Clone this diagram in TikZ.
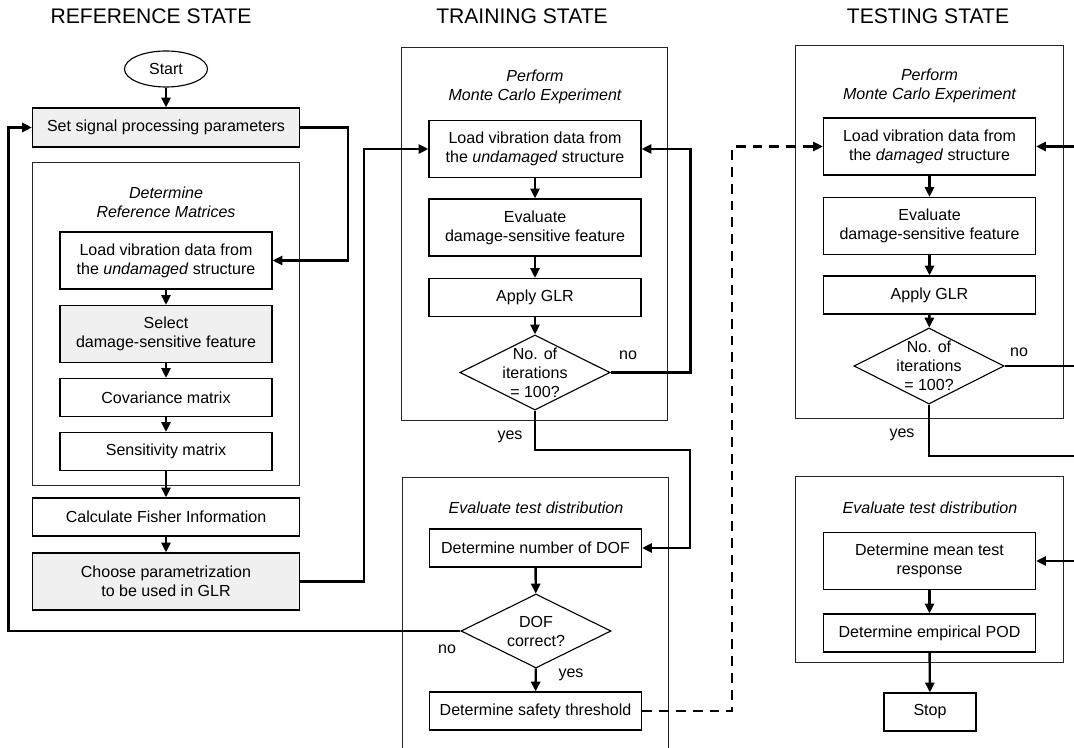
\documentclass[tikz,border=0pt]{standalone}
\usepackage{fontspec}
\setmainfont{Liberation Sans}
\usepackage{tikz}
\usetikzlibrary{arrows.meta,positioning,shapes.geometric,calc}

\begin{document}
\begin{tikzpicture}[
	x=0.025cm, y=-0.025cm,
	font=\fontsize{11.4}{13.5}\selectfont,
	stepbox/.style={
		draw,
		line width=0.8pt,
		fill=white,
		align=center,
		inner sep=0pt,
		minimum width=5.3cm,
		minimum height=0.95cm
	},
	tall/.style={minimum height=1.425cm},
	wide/.style={minimum width=6.675cm},
	greybox/.style={fill=black!6},
	group/.style={
		draw=black!85,
		line width=0.7pt,
		inner sep=0pt,
		minimum width=6.675cm
	},
	heading/.style={align=center, font=\fontsize{11.4}{13.5}\selectfont\itshape},
	decision/.style={
		diamond,
		draw,
		line width=0.8pt,
		inner sep=0pt,
		minimum width=3.75cm,
		minimum height=1.875cm
	},
	title/.style={font=\fontsize{15}{18}\selectfont},
	flow/.style={line width=1.7pt, -{Triangle[length=7pt,width=6.5pt]}},
	link/.style={line width=1.7pt},
	]
	\useasboundingbox (0,0) rectangle (1074,748);
	
	% column titles
	\node[title] (tref) at (151,16) {REFERENCE STATE};
	\node[title] (ttrain) at (522,16) {TRAINING STATE};
	\node[title] (ttest) at (928,16) {TESTING STATE};
	
	% group frames
	\node[group, minimum height=8.05cm] (refgrp) at (166,324) {};
	\node[group, minimum width=6.625cm, minimum height=9.3cm] (trmc) at (534.5,234) {};
	\node[group, minimum height=9.3cm] (temc) at (929.5,232) {};
	\node[group, minimum height=4.625cm] (teeval) at (929.5,569.5) {};
	\draw[draw=black!85, line width=0.7pt] (402,748) |- (668,477) -- (668,748);
	
	\node[heading] (hrefgrp) at (166,202.5) {Determine\\Reference Matrices};
	\node[heading] (htrmc) at (535,87) {Perform\\Monte Carlo Experiment};
	\node[heading] (htreval) at (536,508) {Evaluate test distribution};
	\node[heading] (htemc) at (929.5,86) {Perform\\Monte Carlo Experiment};
	\node[heading] (hteeval) at (930,508) {Evaluate test distribution};
	
	% reference state
	\node[ellipse, draw, line width=0.8pt, minimum width=2.075cm, minimum height=0.9cm, inner sep=0pt] (start) at (166,69) {Start};
	\node[stepbox, wide, greybox, minimum height=0.975cm] (setpar) at (166,127.5) {Set signal processing parameters};
	\node[stepbox, tall] (load1) at (166,260.5) {Load vibration data from\\the \textit{undamaged} structure};
	\node[stepbox, tall, greybox] (select1) at (166,334) {Select\\damage-sensitive feature};
	\node[stepbox] (cov1) at (166,397.5) {Covariance matrix};
	\node[stepbox] (sens1) at (166,451.5) {Sensitivity matrix};
	\node[stepbox, wide] (fisher) at (166,517) {Calculate Fisher Information};
	\node[stepbox, wide, tall, greybox] (choose) at (166,581.5) {Choose parametrization\\to be used in GLR};
	
	% training state
	\node[stepbox, tall] (load2) at (535,149) {Load vibration data from\\the \textit{undamaged} structure};
	\node[stepbox, tall] (eval2) at (535,227.5) {Evaluate\\damage-sensitive feature};
	\node[stepbox] (glr2) at (535,297.5) {Apply GLR};
	\node[decision, label={[align=center]center:{No. of\\iterations\\= 100?}}] (iter2) at (535,372.5) {};
	\node (no2) at (628,355) {no};
	\node (yes2) at (510,437) {yes};
	\node[stepbox] (dof2) at (535.5,548) {Determine number of DOF};
	\node[decision, minimum height=1.85cm, label={[align=center]center:{DOF\\correct?}}] (dofok) at (536,631) {};
	\node (no3) at (447,649) {no};
	\node (yes3) at (571,675) {yes};
	\node[stepbox] (safety) at (535.5,711) {Determine safety threshold};
	
	% testing state
	\node[stepbox, tall] (load3) at (929.5,146.5) {Load vibration data from\\the \textit{damaged} structure};
	\node[stepbox, tall] (eval3) at (929.5,226) {Evaluate\\damage-sensitive feature};
	\node[stepbox] (glr3) at (929.5,295) {Apply GLR};
	\node[decision, minimum height=1.9cm, label={[align=center]center:{No. of\\iterations\\= 100?}}] (iter3) at (929,366) {};
	\node (no4) at (1019,352) {no};
	\node (yes4) at (902,435) {yes};
	\node[stepbox, tall] (mean3) at (929.5,561) {Determine mean test\\response};
	\node[stepbox] (pod3) at (929.5,633) {Determine empirical POD};
	\node[stepbox, minimum width=2.3cm] (stop) at (930,712) {Stop};
	
	% free ends at the right edge
	\coordinate (in3) at (1074,146.5);
	\coordinate (out3) at (1074,366);
	\coordinate (back3) at (1074,456);
	\coordinate (in4) at (1074,561);
	\coordinate (bend2) at (690,450);
	
	% connectors
	\draw[flow] (start) -- (setpar);
	\draw[flow] (setpar.east) -- ++(48,0) |- (load1.east);
	\draw[flow] (load1) -- (select1);
	\draw[flow] (select1) -- (cov1);
	\draw[flow] (cov1) -- (sens1);
	\draw[flow] (sens1) -- (fisher);
	\draw[flow] (fisher) -- (choose);
	\draw[flow] (choose.east) -- ++(64,0) |- (load2.west);
	
	\draw[flow] (load2) -- (eval2);
	\draw[flow] (eval2) -- (glr2);
	\draw[flow] (glr2) -- (iter2);
	\draw[flow] (iter2.east) -- ++(80,0) |- (load2.east);
	\draw[flow] (iter2.south) |- (bend2) |- (dof2.east);
	\draw[flow] (dof2) -- (dofok);
	\draw[flow] (dofok) -- (safety);
	\draw[flow] (dofok.west) -- ++(-452,0) |- (setpar.west);
	\draw[flow, dash pattern=on 7pt off 5pt] (safety.east) -- ++(90,0) |- (load3.west);
	
	\draw[flow] (in3) -- (load3.east);
	\draw[flow] (load3) -- (eval3);
	\draw[flow] (eval3) -- (glr3);
	\draw[flow] (glr3) -- (iter3);
	\draw[link] (iter3.east) -- (out3);
	\draw[link] (iter3.south) |- (back3);
	\draw[flow] (in4) -- (mean3.east);
	\draw[flow] (mean3) -- (pod3);
	\draw[flow] (pod3) -- (stop);
\end{tikzpicture}
\end{document}
